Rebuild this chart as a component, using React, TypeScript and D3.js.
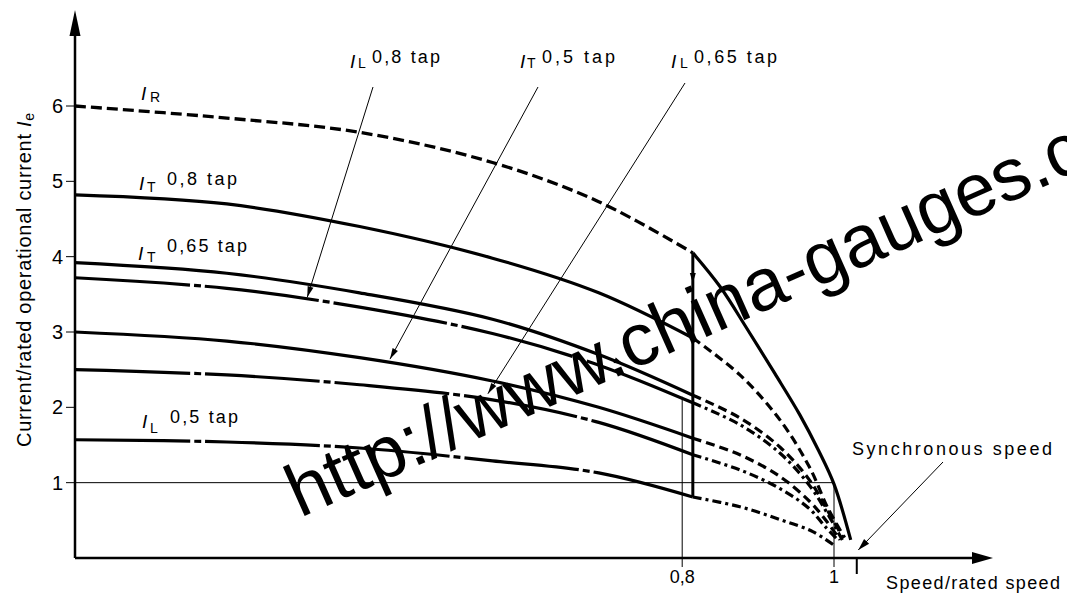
import React from "react";
import * as d3 from "d3";

// ---------- data (speed/rated speed, current/rated current) ----------
const yTicks = [1, 2, 3, 4, 5, 6];
const xTickValues = [0.8, 1];
const xTickLabels = ["0,8", "1"];

const speedPre = [0, 0.2, 0.375, 0.55, 0.69, 0.814];
const iR_pre = [6.0, 5.84, 5.65, 5.25, 4.73, 4.05];
const iT08_pre = [4.82, 4.7, 4.4, 3.98, 3.52, 2.92];
const iT065_pre = [3.92, 3.78, 3.52, 3.17, 2.7, 2.16];
const iL08_pre = [3.72, 3.58, 3.33, 2.98, 2.56, 2.06];
const iT05_pre = [3.0, 2.88, 2.66, 2.35, 2.0, 1.59];
const iL065_pre = [2.5, 2.43, 2.3, 2.1, 1.8, 1.37];
const iL05_pre = [1.57, 1.54, 1.46, 1.29, 1.13, 0.81];

const iR_post_s = [0.814, 0.85, 0.885, 0.922, 0.955, 0.98, 1.0, 1.022];
const iR_post_v = [4.05, 3.6, 3.05, 2.45, 1.9, 1.42, 0.98, 0.24];
const iT08_post_s = [0.814, 0.876, 0.929, 0.968, 0.992, 1.014];
const iT08_post_v = [2.92, 2.43, 1.83, 1.2, 0.66, 0.27];
const iT065_post_s = [0.814, 0.876, 0.929, 0.968, 0.992, 1.012];
const iT065_post_v = [2.16, 1.86, 1.47, 1.03, 0.62, 0.27];
const iL08_post_s = [0.814, 0.876, 0.929, 0.968, 0.992, 1.011];
const iL08_post_v = [2.06, 1.77, 1.39, 0.96, 0.58, 0.24];
const iT05_post_s = [0.814, 0.876, 0.929, 0.968, 0.99, 1.008];
const iT05_post_v = [1.59, 1.37, 1.08, 0.75, 0.49, 0.24];
const iL065_post_s = [0.814, 0.876, 0.929, 0.968, 0.988, 1.005];
const iL065_post_v = [1.37, 1.17, 0.92, 0.65, 0.42, 0.24];
const iL05_post_s = [0.814, 0.876, 0.929, 0.972, 1.0];
const iL05_post_v = [0.81, 0.68, 0.51, 0.35, 0.17];

const switchSpeed = 0.814;
const switchTop = 4.05;
const switchBottom = 0.81;
const syncSpeed = 1.03;

const FONT = "'Liberation Sans', Arial, Helvetica, sans-serif";

export default function App() {
  const W = 1067, H = 598;
  const x = d3.scaleLinear().domain([0, 1]).range([75, 834]);
  const y = d3.scaleLinear().domain([0, 6]).range([558, 106]);
  const line = d3
    .line<[number, number]>()
    .x((d) => x(d[0]))
    .y((d) => y(d[1]))
    .curve(d3.curveCatmullRom.alpha(0.5));
  const zip = (s: number[], v: number[]) => s.map((d, i) => [d, v[i]] as [number, number]);

  const SOLID = undefined;
  const LDASH = "115,4,7,4";
  const RDASH = "11,5";
  const TCONT = "9,5";
  const LCONT = "9,4,3,4";

  const curves = [
    { d: zip(speedPre, iR_pre), dash: RDASH, w: 3.3 },
    { d: zip(speedPre, iT08_pre), dash: SOLID, w: 3.2 },
    { d: zip(speedPre, iT065_pre), dash: SOLID, w: 3.2 },
    { d: zip(speedPre, iL08_pre), dash: LDASH, w: 3.2 },
    { d: zip(speedPre, iT05_pre), dash: SOLID, w: 3.2 },
    { d: zip(speedPre, iL065_pre), dash: LDASH, w: 3.2 },
    { d: zip(speedPre, iL05_pre), dash: LDASH, w: 3.2 },
    { d: zip(iR_post_s, iR_post_v), dash: SOLID, w: 3.2 },
    { d: zip(iT08_post_s, iT08_post_v), dash: TCONT, w: 3.2 },
    { d: zip(iT065_post_s, iT065_post_v), dash: TCONT, w: 3.2 },
    { d: zip(iL08_post_s, iL08_post_v), dash: LCONT, w: 3.2 },
    { d: zip(iT05_post_s, iT05_post_v), dash: TCONT, w: 3.2 },
    { d: zip(iL065_post_s, iL065_post_v), dash: LCONT, w: 3.2 },
    { d: zip(iL05_post_s, iL05_post_v), dash: LCONT, w: 3.2 },
  ];

  const head = (x1: number, y1: number, x2: number, y2: number, len = 11, hw = 3) => {
    const a = Math.atan2(y2 - y1, x2 - x1);
    const bx = x2 - len * Math.cos(a), by = y2 - len * Math.sin(a);
    const px = -Math.sin(a) * hw, py = Math.cos(a) * hw;
    return `M${x2},${y2}L${bx + px},${by + py}L${bx - px},${by - py}Z`;
  };

  const annots = [
    { x1: 373, y1: 87, s: 0.306, v: 3.46 },
    { x1: 538, y1: 87, s: 0.415, v: 2.64 },
    { x1: 685, y1: 83, s: 0.544, v: 2.18 },
  ];

  const labels = [
    { ix: 141, iy: 100, sub: "R", sx: 150, sy: 102, text: "", tx: 0, ty: 0, tl: 0 },
    { ix: 139, iy: 190, sub: "T", sx: 147, sy: 192, text: "0,8  tap", tx: 167, ty: 185, tl: 70 },
    { ix: 138, iy: 260, sub: "T", sx: 147, sy: 262, text: "0,65  tap", tx: 167, ty: 252, tl: 80 },
    { ix: 142, iy: 428, sub: "L", sx: 150, sy: 433, text: "0,5  tap", tx: 170, ty: 423, tl: 68 },
    { ix: 350, iy: 68, sub: "L", sx: 358, sy: 68, text: "0,8 tap", tx: 372, ty: 63, tl: 68 },
    { ix: 520, iy: 68, sub: "T", sx: 527, sy: 68, text: "0,5 tap", tx: 542, ty: 63, tl: 73 },
    { ix: 671, iy: 68, sub: "L", sx: 680, sy: 68, text: "0,65 tap", tx: 694, ty: 63, tl: 83 },
  ];

  const xs = x(switchSpeed);

  return (
    <svg
      width={W}
      height={H}
      viewBox={`0 0 ${W} ${H}`}
      style={{ position: "absolute", left: 0, top: 0, background: "#fff" }}
      fontFamily={FONT}
    >
      <rect x={0} y={0} width={W} height={H} fill="#fff" />

      {/* reference lines */}
      <line x1={x(0)} x2={x(1)} y1={y(1)} y2={y(1)} stroke="#000" strokeWidth={1} />
      <line x1={x(1)} x2={x(1)} y1={y(1)} y2={567} stroke="#000" strokeWidth={1} />
      <line x1={x(0.8)} x2={x(0.8)} y1={y(2.14)} y2={567} stroke="#000" strokeWidth={1} />

      {/* curves */}
      {curves.map((c, i) => (
        <path
          key={i}
          d={line(c.d) || ""}
          fill="none"
          stroke="#000"
          strokeWidth={c.w}
          strokeDasharray={c.dash}
          strokeLinecap="butt"
        />
      ))}

      {/* switch-over vertical */}
      <line x1={xs} x2={xs} y1={y(switchTop)} y2={y(switchBottom)} stroke="#000" strokeWidth={3} />
      <path d={head(xs, y(3.8), xs, y(3.65), 10, 3)} fill="#000" />
      <path d={head(x(0.70), y(2.67), x(0.722), y(2.58), 9, 3)} fill="#000" />

      {/* axes */}
      <line x1={75} x2={975} y1={558} y2={558} stroke="#000" strokeWidth={2.5} />
      <path d="M993,558L972,552L972,564Z" fill="#000" />
      <line x1={75} x2={75} y1={558} y2={30} stroke="#000" strokeWidth={2.5} />
      <path d="M75,10L69.5,36L80.5,36Z" fill="#000" />

      {/* y ticks */}
      {yTicks.map((t) => (
        <g key={t}>
          <line x1={66} x2={75} y1={y(t)} y2={y(t)} stroke="#000" strokeWidth={1} />
          <text x={63} y={y(t) + 7} fontSize={20} textAnchor="end" fill="#000">
            {t}
          </text>
        </g>
      ))}

      {/* x tick labels */}
      {xTickValues.map((t, i) => (
        <text key={t} x={x(t)} y={583} fontSize={18} textAnchor="middle" fill="#000">
          {xTickLabels[i]}
        </text>
      ))}
      <line x1={x(syncSpeed)} x2={x(syncSpeed)} y1={558} y2={574} stroke="#000" strokeWidth={2} />

      {/* curve labels */}
      {labels.map((l, i) => (
        <g key={i} fill="#000">
          <text x={l.ix} y={l.iy} fontSize={19} fontStyle="italic">I</text>
          <text x={l.sx} y={l.sy} fontSize={14}>{l.sub}</text>
          {l.text && (
            <text x={l.tx} y={l.ty} fontSize={18} textLength={l.tl} lengthAdjust="spacing">
              {l.text}
            </text>
          )}
        </g>
      ))}

      {/* annotation leader lines */}
      {annots.map((a, i) => (
        <g key={i}>
          <line x1={a.x1} y1={a.y1} x2={x(a.s)} y2={y(a.v)} stroke="#000" strokeWidth={1} />
          <path d={head(a.x1, a.y1, x(a.s), y(a.v), 11, 3)} fill="#000" />
        </g>
      ))}

      {/* synchronous speed */}
      <text x={852} y={455} fontSize={18} textLength={200} lengthAdjust="spacing" fill="#000">
        Synchronous speed
      </text>
      <line x1={943} y1={462} x2={x(1.032)} y2={550} stroke="#000" strokeWidth={1} />
      <path d={head(943, 462, x(1.032), 550, 12, 3.5)} fill="#000" />

      {/* axis titles */}
      <text x={886} y={589} fontSize={18} textLength={174} lengthAdjust="spacing" fill="#000">
        Speed/rated speed
      </text>
      <g transform="translate(31,280) rotate(-90)">
        <text x={0} y={0} fontSize={20} textAnchor="middle" textLength={334} lengthAdjust="spacing" fill="#000">
          Current/rated operational current <tspan fontStyle="italic">I</tspan>
          <tspan fontSize={14} dy={3}>e</tspan>
        </text>
      </g>

      {/* watermark */}
      <text
        x={0}
        y={0}
        transform="translate(300,518) rotate(-24)"
        fontSize={74}
        fill="#000"
        fontFamily="'Liberation Sans', Arial, sans-serif"
      >
        http://www.china-gauges.c
      </text>
    </svg>
  );
}
